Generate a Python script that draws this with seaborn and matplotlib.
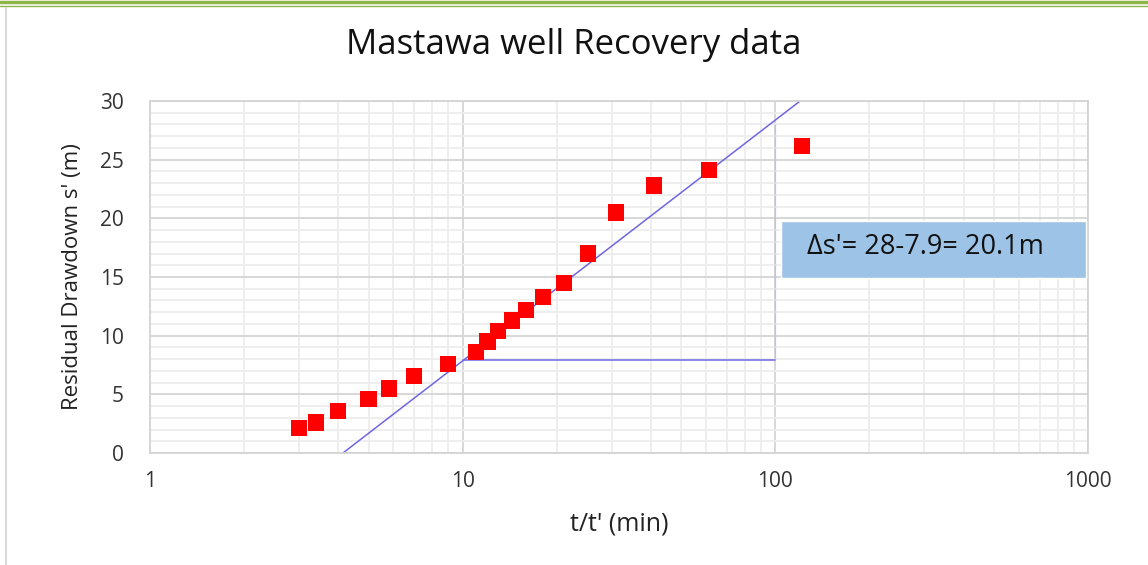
import numpy as np
import pandas as pd
import matplotlib
matplotlib.use("Agg")
import matplotlib.pyplot as plt
import matplotlib.patches as mpatches
from matplotlib.ticker import LogLocator, MultipleLocator, FixedLocator, FixedFormatter
import seaborn as sns

# recovery data
t_ratio = [3.0, 3.4, 4.0, 5.0, 5.8, 7.0, 9.0, 11.0, 12.0, 13.0, 14.4, 15.9, 18.1, 21.1, 25.2, 30.9, 40.9, 61.3, 121.6]
resid_dd = [2.1, 2.6, 3.6, 4.6, 5.5, 6.6, 7.6, 8.6, 9.5, 10.4, 11.3, 12.2, 13.3, 14.5, 17.0, 20.5, 22.8, 24.1, 26.2]

# fitted straight line and construction lines
fit_x = [4.14, 120.0]
fit_y = [0.0, 30.0]
horiz_x = [10.0, 100.0]
horiz_y = [7.9, 7.9]
vert_x = [100.0, 100.0]
vert_y = [7.9, 28.0]

df = pd.DataFrame({"t": t_ratio, "s": resid_dd})

sns.set_style("white")
plt.rcParams["font.family"] = ["Open Sans", "DejaVu Sans"]

fig = plt.figure(figsize=(11.48, 5.65), dpi=100)
ax = fig.add_axes([0.1307, 0.1982, 0.8170, 0.6230])

line_col = "#6F66E0"
ax.set_xscale("log")
ax.set_xlim(1, 1000)
ax.set_ylim(0, 30)

# grid
ax.xaxis.set_major_locator(FixedLocator([1, 10, 100, 1000]))
ax.xaxis.set_major_formatter(FixedFormatter(["1", "10", "100", "1000"]))
ax.xaxis.set_minor_locator(LogLocator(base=10, subs=np.arange(2, 10), numticks=20))
ax.yaxis.set_major_locator(MultipleLocator(5))
ax.yaxis.set_minor_locator(MultipleLocator(1))
ax.grid(which="major", color="#d4d4d4", lw=1.3)
ax.grid(which="minor", color="#ededed", lw=1.3)
ax.set_axisbelow(True)
for sp in ax.spines.values():
    sp.set_color("#d4d4d4")
    sp.set_linewidth(1.3)

sns.lineplot(x=fit_x, y=fit_y, ax=ax, color=line_col, lw=1.1, zorder=2)
sns.lineplot(x=horiz_x, y=horiz_y, ax=ax, color=line_col, lw=1.1, zorder=2)
sns.lineplot(x=vert_x, y=vert_y, ax=ax, color=line_col, lw=1.1, zorder=2)
sns.scatterplot(data=df, x="t", y="s", ax=ax, marker="s", color="#ff0000", s=135,
                edgecolor="none", zorder=3)

# annotation box
ax.add_patch(mpatches.Rectangle((104, 14.9), 881, 4.9, facecolor="#9DC3E6",
                                edgecolor="white", lw=1, zorder=4))
ax.text(126, 17.6, "\u0394s'= 28-7.9= 20.1m", fontsize=19.5, va="center", ha="left",
        color="#111111", zorder=5)

ax.tick_params(axis="both", which="both", length=0, labelsize=15, colors="#333333")
ax.tick_params(axis="x", pad=13)
ax.tick_params(axis="y", pad=19)

ax.set_xlabel("t/t' (min)", fontsize=18, color="#222222", labelpad=14)
ax.set_ylabel("Residual Drawdown s' (m)", fontsize=16, color="#222222", labelpad=12)
ax.set_title("Mastawa well Recovery data", fontsize=25, color="#111111", pad=34, x=0.452)

# page decorations
fig.add_artist(plt.Line2D([0, 1], [0.997, 0.997], color="#8db548", lw=2.5))
fig.add_artist(plt.Line2D([0, 1], [0.990, 0.990], color="#8db548", lw=1.0))
fig.add_artist(plt.Line2D([0.005, 0.005], [0, 0.985], color="#d9d9d9", lw=1.5))

fig.savefig("out.png", dpi=100)
